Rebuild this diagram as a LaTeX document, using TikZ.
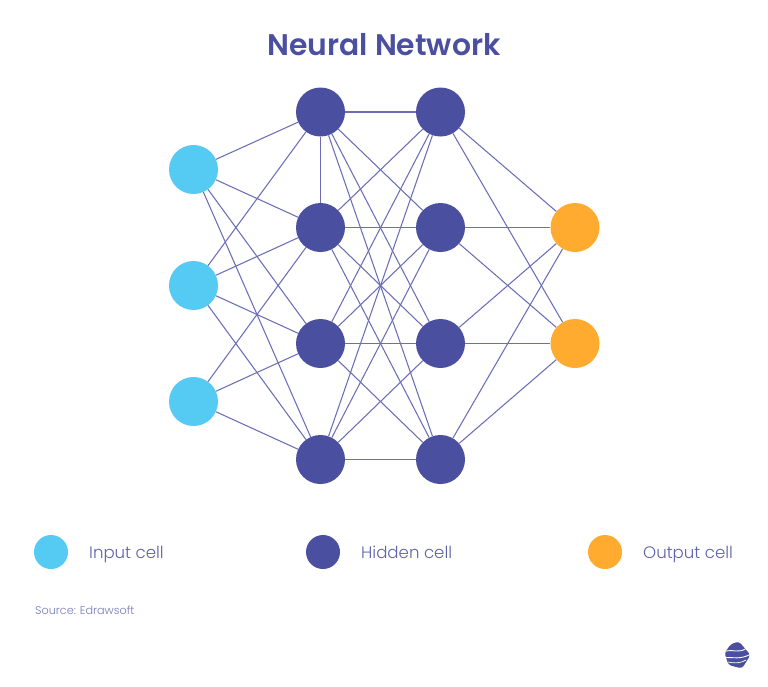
\documentclass[tikz,border=0pt]{standalone}
\usepackage{fontspec}
\setmainfont{Poppins}
\newfontfamily\lightfont{Poppins Light}
\newfontfamily\titlefont{Poppins SemiBold}
\definecolor{hid}{HTML}{4A4F9F}
\definecolor{inp}{HTML}{55CAF3}
\definecolor{outc}{HTML}{FFAB2F}
\definecolor{edge}{HTML}{6B6EB6}
\definecolor{lab}{HTML}{5F62AC}
\tikzset{
  cell/.style={circle,inner sep=0pt,minimum size=49pt},
  mini/.style={circle,inner sep=0pt,minimum size=34pt},
  inpcell/.style={fill=inp},
  hidcell/.style={fill=hid},
  outcell/.style={fill=outc},
  link/.style={draw=edge,line width=1.05pt},
  leg/.style={anchor=base west,inner sep=0pt,text=lab,font=\lightfont\fontsize{16.6}{20}\selectfont},
}
\begin{document}
\begin{tikzpicture}[x=1pt,y=-1pt]
\useasboundingbox (0,0) rectangle (768,686);
\fill[white] (0,0) rectangle (768,686);
\node[inner sep=0pt,text=hid,font=\titlefont\fontsize{29.8}{34}\selectfont] (title) at (384,45) {Neural Network};
\foreach \n/\y in {1/169.5,2/285.5,3/401.5} \node[cell,inpcell] (i\n) at (193.5,\y) {};
\foreach \n/\y in {1/112,2/227.5,3/343.5,4/459.5} {
  \node[cell,hidcell] (h\n) at (320.5,\y) {};
  \node[cell,hidcell] (g\n) at (440.5,\y) {};
}
\foreach \n/\y in {1/227.5,2/343.5} \node[cell,outcell] (o\n) at (575,\y) {};
\foreach \a/\b in {i1/h1,i1/h2,i1/h3,i1/h4,i2/h1,i2/h2,i2/h3,i2/h4,i3/h2,i3/h3,i3/h4,h1/h2}
  \draw[link] (\a) -- (\b);
\foreach \a in {h1,h2,h3,h4} \foreach \b in {g1,g2,g3,g4} \draw[link] (\a) -- (\b);
\foreach \a in {g1,g2,g3,g4} \foreach \b in {o1,o2} \draw[link] (\a) -- (\b);
\node[mini,inpcell] (li) at (51,552) {};
\node[mini,hidcell] (lh) at (323,552) {};
\node[mini,outcell] (lo) at (605,552) {};
\node[leg] (ti) at (89,558) {Input cell};
\node[leg] (th) at (361,558) {Hidden cell};
\node[leg] (to) at (643,558) {Output cell};
\node[anchor=base west,inner sep=0pt,text=lab!85,font=\lightfont\fontsize{11.2}{14}\selectfont] (src) at (35,614) {Source: Edrawsoft};
% logo
\fill[hid,rounded corners=3pt] (731,644) -- (739,641.5) -- (750.5,655) -- (742,668.5) -- (728.5,665) -- (724.5,653) -- cycle;
\draw[white,line width=0.9pt] (726,651) .. controls (733,649) and (738,654) .. (747,648);
\draw[white,line width=0.9pt] (725,657.5) .. controls (733,657) and (740,660) .. (751,654);
\draw[white,line width=0.7pt] (728,662) .. controls (733,663) and (739,664) .. (746,660);
\end{tikzpicture}
\end{document}
